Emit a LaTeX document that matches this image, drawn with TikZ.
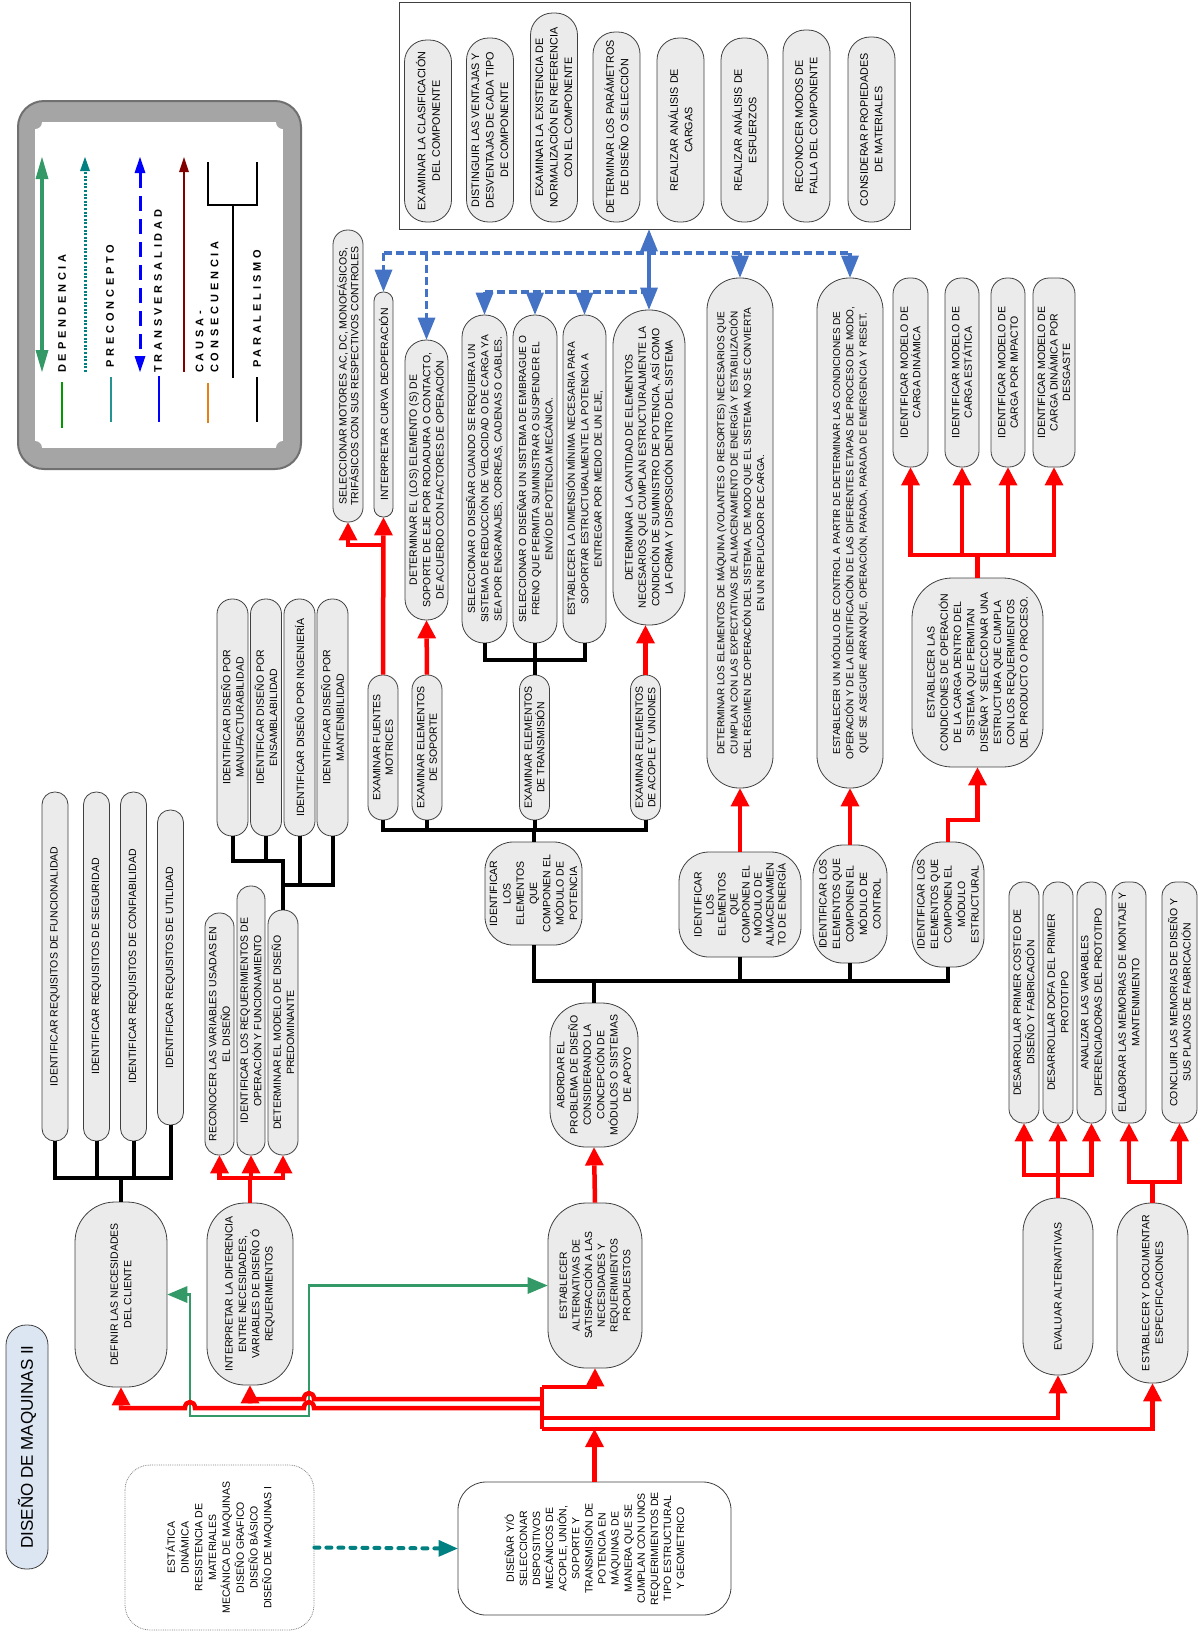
\documentclass[tikz,border=0pt]{standalone}
\usepackage{fontspec}
\setmainfont{Liberation Sans}
\newfontfamily\legfont[LetterSpace=35]{Liberation Sans}
\usetikzlibrary{arrows.meta}
\newcommand{\boxfs}[2]{\fontsize{#1}{#2}\selectfont}
\definecolor{boxgray}{RGB}{235,235,235}
\definecolor{boxline}{RGB}{64,64,64}
\definecolor{blueline}{RGB}{68,114,196}
\definecolor{depgreen}{RGB}{51,153,102}
\definecolor{preteal}{RGB}{0,128,128}
\definecolor{causered}{RGB}{128,0,0}
\definecolor{titleblue}{RGB}{220,230,242}
\definecolor{legdark}{RGB}{112,112,112}
\definecolor{legmid}{RGB}{165,165,165}
\tikzset{
  pill/.style={
    draw = boxline,
    fill = boxgray,
    line width = 0.8pt,
    rotate = 90,
    align = center,
    inner sep = 0pt,
    font = \boxfs{10.5}{13.3}
  },
  topbox/.style={
    pill,
    minimum height = 47pt,
    rounded corners = 22pt,
    font = \boxfs{10.8}{14.5}
  },
  blk/.style={
    line width = 4pt,
    color = black
  },
  rd/.style={
    line width = 4.5pt,
    color = red,
    -{Triangle[width=19pt,length=18pt,line width=0pt]}
  },
  bl/.style={
    line width = 3.5pt,
    color = blueline,
    dash pattern = on 8pt off 4pt
  },
  bla/.style={
    bl,
    -{Triangle[width=18pt,length=22pt,line width=0pt]}
  },
  grn/.style={
    line width = 2.2pt,
    color = depgreen,
    {Triangle[width=17pt,length=20pt,line width=0pt]}-{Triangle[width=17pt,length=20pt,line width=0pt]}
  },
  legtxt/.style={
    rotate = 90,
    anchor = west,
    inner sep = 0pt,
    align = left,
    font = \legfont\bfseries\boxfs{11}{15}
  }
}
\begin{document}
\begin{tikzpicture}[x=1pt,y=-1pt]
  \useasboundingbox (0,0) rectangle (1202,1634);
  \draw[line width=2pt, draw=legdark, fill=legmid, rounded corners=26pt] (18,101) rectangle (301,469);
  \fill[white] (35,122) rectangle (283,448);
  \foreach \cx/\cy in {35/122,283/122,35/448,283/448}
    \fill[legmid] (\cx,\cy) circle (7pt);
  \draw[line width=3.5pt, depgreen, {Triangle[width=13pt,length=22pt,line width=0pt]}-{Triangle[width=13pt,length=22pt,line width=0pt]}] (42,157) -- (42,372);
  \draw[line width=3pt, preteal, dash pattern=on 2pt off 1.6pt, -{Triangle[width=10pt,length=14pt,line width=0pt]}] (85,372) -- (85,157);
  \draw[line width=3pt, blue, dash pattern=on 15pt off 8pt, {Triangle[width=11pt,length=16pt,line width=0pt]}-{Triangle[width=11pt,length=16pt,line width=0pt]}] (140,157) -- (140,372);
  \draw[line width=2pt, causered, -{Triangle[width=10pt,length=15pt,line width=0pt]}] (184,372) -- (184,157);
  \draw[line width=1.5pt] (208,162) |- (257,205) -- (257,162);
  \draw[line width=1.5pt] (233,205) -- (233,378);
  \node[legtxt] (ldep) at (62,373) {DEPENDENCIA};
  \node[legtxt] (lpre) at (110,368) {PRECONCEPTO};
  \node[legtxt] (ltra) at (158,373) {TRANSVERSALIDAD};
  \node[legtxt] (lcau) at (207,373) {CAUSA-\\CONSECUENCIA};
  \node[legtxt] (lpar) at (257,368) {PARALELISMO};
  \draw[line width=1.5pt, green!60!black] (62,382) -- (62,428);
  \draw[line width=1.5pt, preteal!85] (111,377) -- (111,422);
  \draw[line width=1.5pt, blue] (159,376) -- (159,422);
  \draw[line width=1.5pt, orange!60!brown] (208,383) -- (208,423);
  \draw[line width=1.5pt] (257,377) -- (257,422);

  \node[draw=boxline, line width=0.8pt, minimum width=511pt, minimum height=227pt, inner sep=0pt] (topfr) at (654.5,115.5) {};
  \foreach \n/\x/\y/\lng/\txt in {
    1/428/131/182/{EXAMINAR LA CLASIFICACIÓN\\DEL COMPONENTE},
    2/490/130/184/{DISTINGUIR LAS VENTAJAS Y\\DESVENTAJAS DE CADA TIPO\\DE COMPONENTE},
    3/554/117.5/209/{EXAMINAR LA EXISTENCIA DE\\NORMALIZACIÓN EN REFERENCIA\\CON EL COMPONENTE},
    4/616.5/127/190/{DETERMINAR LOS PARÁMETROS\\DE DISEÑO O SELECCIÓN},
    5/680.5/130/184/{REALIZAR ANÁLISIS DE\\CARGAS},
    6/744.5/130/184/{REALIZAR ANÁLISIS DE\\ESFUERZOS},
    7/806.5/126/192/{RECONOCER MODOS DE\\FALLA DEL COMPONENTE},
    8/871.5/129.5/185/{CONSIDERAR PROPIEDADES\\DE MATERIALES}}{
    \node[topbox, minimum width=\lng pt] (t\n) at (\x,\y) {\txt};
  }

  \node[pill, font=\boxfs{10.5}{11.7}, minimum width=292pt, minimum height=30pt, rounded corners=14.5pt] (a1) at (348,376) {SELECCIONAR MOTORES AC, DC, MONOFÁSICOS,\\TRIFÁSICOS CON SUS RESPECTIVOS CONTROLES};
  \node[pill, minimum width=225pt, minimum height=19pt, rounded corners=9pt] (a2) at (383.5,404.5) {INTERPRETAR CURVA DEOPERACIÓN};
  \node[pill, minimum width=280pt, minimum height=43pt, rounded corners=21pt] (a3) at (426.5,480) {DETERMINAR EL (LOS)  ELEMENTO (S) DE\\SOPORTE DE EJE POR RODADURA O CONTACTO,\\DE ACUERDO CON FACTORES DE OPERACIÓN};
  \node[pill, font=\boxfs{10.2}{13.3}, minimum width=328pt, minimum height=45pt, rounded corners=22pt] (a4) at (484.5,479) {SELECCIONAR O DISEÑAR CUANDO SE REQUIERA UN\\SISTEMA DE REDUCCIÓN DE VELOCIDAD O DE CARGA YA\\SEA POR ENGRANAJES, CORREAS, CADENAS O CABLES.};
  \node[pill, font=\boxfs{10.2}{13.3}, minimum width=328pt, minimum height=44pt, rounded corners=21.5pt] (a5) at (535,479) {SELECCIONAR O DISEÑAR UN SISTEMA DE EMBRAGUE O\\FRENO QUE PERMITA SUMINISTRAR O SUSPENDER EL\\ENVÍO DE POTENCIA  MECÁNICA.};
  \node[pill, font=\boxfs{10.2}{13.3}, minimum width=328pt, minimum height=43pt, rounded corners=21pt] (a6) at (584.5,479) {ESTABLECER LA DIMENSIÓN MÍNIMA NECESARIA PARA\\SOPORTAR ESTRUCTURALMENTE LA  POTENCIA A\\ENTREGAR POR MEDIO DE UN EJE,};
  \node[pill, minimum width=315pt, minimum height=72pt, rounded corners=35pt] (a7) at (649,467.5) {DETERMINAR LA CANTIDAD DE ELEMENTOS\\NECESARIOS QUE CUMPLAN ESTRUCTURALMENTE LA\\CONDICIÓN DE SUMINISTRO DE POTENCIA, ASÍ COMO\\LA FORMA Y DISPOSICIÓN DENTRO DEL SISTEMA};

  \node[pill, font=\boxfs{10}{13.3}, minimum width=510pt, minimum height=66pt, rounded corners=32pt] (b1) at (740,533) {DETERMINAR LOS ELEMENTOS DE MÁQUINA (VOLANTES O RESORTES) NECESARIOS  QUE\\CUMPLAN CON LAS EXPECTATIVAS DE ALMACENAMIENTO DE ENERGÍA Y ESTABILIZACIÓN\\DEL RÉGIMEN DE OPERACIÓN DEL SISTEMA, DE MODO QUE EL SISTEMA  NO SE CONVIERTA\\EN UN REPLICADOR DE CARGA.};
  \node[pill, font=\boxfs{10}{13.3}, minimum width=510pt, minimum height=66pt, rounded corners=32pt] (b2) at (850,533) {ESTABLECER UN MÓDULO DE CONTROL A PARTIR  DE DETERMINAR LAS CONDICIONES DE\\OPERACIÓN Y  DE LA IDENTIFICACIÓN DE LAS DIFERENTES ETAPAS DE PROCESO DE MODO,\\QUE SE ASEGURE ARRANQUE, OPERACIÓN, PARADA, PARADA DE EMERGENCIA Y RESET.};

  \foreach \n/\x/\thk/\txt in {
    1/910.5/35/{IDENTIFICAR MODELO DE\\CARGA DINÁMICA},
    2/962/34/{IDENTIFICAR MODELO DE\\CARGA ESTÁTICA},
    3/1008/34/{IDENTIFICAR MODELO DE\\CARGA POR IMPACTO},
    4/1054/42/{IDENTIFICAR MODELO DE\\CARGA DINÁMICA POR\\DESGASTE}}{
    \node[pill, font=\boxfs{10.5}{12.5}, minimum width=189pt, minimum height=\thk pt, rounded corners=16pt] (c\n) at (\x,372.5) {\txt};
  }
  \node[pill, minimum width=189pt, minimum height=131pt, rounded corners=40pt] (c0) at (977.5,672.5) {ESTABLECER LAS\\CONDICIONES DE OPERACIÓN\\DE LA CARGA DENTRO DEL\\SISTEMA QUE PERMITAN\\DISEÑAR Y SELECCIONAR UNA\\ESTRUCTURA QUE CUMPLA\\CON LOS REQUERIMIENTOS\\DEL PRODUCTO O PROCESO.};

  \foreach \n/\x/\txt in {
    1/383/{EXAMINAR FUENTES\\MOTRICES},
    2/427/{EXAMINAR ELEMENTOS\\DE SOPORTE},
    3/534.5/{EXAMINAR ELEMENTOS\\DE TRANSMISIÓN},
    4/645.5/{EXAMINAR ELEMENTOS\\DE ACOPLE Y UNIONES}}{
    \node[pill, font=\boxfs{10.5}{12.5}, minimum width=145pt, minimum height=30pt, rounded corners=14.5pt] (d\n) at (\x,747.5) {\txt};
  }

  \node[pill, minimum width=103pt, minimum height=97pt, rounded corners=28pt] (e1) at (533.5,893.5) {IDENTIFICAR\\LOS\\ELEMENTOS\\QUE\\COMPONEN EL\\MÓDULO DE\\POTENCIA};
  \node[pill, font=\boxfs{10.5}{12}, minimum width=105pt, minimum height=122pt, rounded corners=30pt] (e2) at (740,904.5) {IDENTIFICAR\\LOS\\ELEMENTOS\\QUE\\COMPONEN EL\\MÓDULO DE\\ALMACENAMIEN\\TO DE ENERGÍA};
  \node[pill, font=\boxfs{10.5}{13.5}, minimum width=118pt, minimum height=74pt, rounded corners=30pt] (e3) at (850,904) {IDENTIFICAR LOS\\ELEMENTOS QUE\\COMPONEN EL\\MÓDULO DE\\CONTROL};
  \node[pill, font=\boxfs{10.5}{13.5}, minimum width=125pt, minimum height=72pt, rounded corners=30pt] (e4) at (948,904.5) {IDENTIFICAR LOS\\ELEMENTOS QUE\\COMPONEN EL\\MÓDULO\\ESTRUCTURAL};

  \foreach \n/\x/\txt in {
    1/232.5/{IDENTIFICAR DISEÑO POR\\MANUFACTURABILIDAD},
    2/266/{IDENTIFICAR DISEÑO POR\\ENSAMBLABILIDAD},
    3/299.5/{IDENTIFICAR DISEÑO POR INGENIERÍA},
    4/332.5/{IDENTIFICAR DISEÑO POR\\MANTENIBILIDAD}}{
    \node[pill, minimum width=237pt, minimum height=31pt, rounded corners=15pt] (f\n) at (\x,717.5) {\txt};
  }
  \node[pill, minimum width=242pt, minimum height=29pt, rounded corners=14pt] (g1) at (219.5,1034) {RECONOCER LAS VARIABLES USADAS EN\\EL DISEÑO};
  \node[pill, minimum width=269pt, minimum height=28pt, rounded corners=13.5pt] (g2) at (251,1020.5) {IDENTIFICAR LOS REQUERIMIENTOS DE\\OPERACIÓN Y FUNCIONAMIENTO};
  \node[pill, minimum width=245pt, minimum height=30pt, rounded corners=14.5pt] (g3) at (283,1032.5) {DETERMINAR EL MODELO DE DISEÑO\\PREDOMINANTE};

  \foreach \n/\x/\y/\lng/\txt in {
    1/55/966.5/349/{IDENTIFICAR REQUISITOS DE FUNCIONALIDAD},
    2/96.5/966.5/349/{IDENTIFICAR REQUISITOS DE SEGURIDAD},
    3/133.5/966.5/349/{IDENTIFICAR REQUISITOS DE CONFIABILIDAD},
    4/170.5/967.5/315/{IDENTIFICAR REQUISITOS DE UTILIDAD}}{
    \node[pill, minimum width=\lng pt, minimum height=26pt, rounded corners=12.5pt] (h\n) at (\x,\y) {\txt};
  }

  \foreach \n/\x/\thk/\txt in {
    1/1024/30/{DESARROLLAR PRIMER COSTEO DE\\DISEÑO Y FABRICACIÓN},
    2/1058/30/{DESARROLLAR DOFA DEL PRIMER\\PROTOTIPO},
    3/1091.5/29/{ANALIZAR LAS VARIABLES\\DIFERENCIADORAS DEL PROTOTIPO},
    4/1129/34/{ELABORAR LAS MEMORIAS DE MONTAJE Y\\MANTENIMIENTO},
    5/1179.5/35/{CONCLUIR LAS MEMORIAS DE DISEÑO Y\\SUS PLANOS DE FABRICACIÓN}}{
    \node[pill, minimum width=241pt, minimum height=\thk pt, rounded corners=14pt] (i\n) at (\x,1002.5) {\txt};
  }

  \node[pill, minimum width=185pt, minimum height=92pt, rounded corners=40pt] (defn) at (121,1294.5) {DEFINIR LAS NECESIDADES\\DEL CLIENTE};
  \node[pill, minimum width=182pt, minimum height=86pt, rounded corners=38pt] (interp) at (250,1294) {INTERPRETAR LA DIFERENCIA\\ENTRE NECESIDADES,\\VARIABLES DE DISEÑO Ó\\REQUERIMIENTOS};
  \node[pill, font=\boxfs{10.3}{12.7}, minimum width=165pt, minimum height=94pt, rounded corners=38pt] (estalt) at (595,1285.5) {ESTABLECER\\ALTERNATIVAS DE\\SATISFACCIÓN A LAS\\NECESIDADES  Y\\REQUERIMIENTOS\\PROPUESTOS};
  \node[pill, minimum width=144pt, minimum height=88pt, rounded corners=36pt] (abord) at (594,1075) {ABORDAR  EL\\PROBLEMA DE DISEÑO\\CONSIDERANDO LA\\CONCEPCIÓN DE\\MÓDULOS O SISTEMAS\\DE APOYO};
  \node[pill, minimum width=177pt, minimum height=70pt, rounded corners=34pt] (eval) at (1058,1286.5) {EVALUAR ALTERNATIVAS};
  \node[pill, minimum width=180pt, minimum height=71pt, rounded corners=34pt] (estdoc) at (1152.5,1293) {ESTABLECER Y DOCUMENTAR\\ESPECIFICACIONES};

  \node[pill, fill=white, font=\boxfs{10.5}{13.1}, minimum width=133pt, minimum height=273pt, rounded corners=28pt] (main) at (594.5,1548.5) {DISEÑAR Y/Ó\\SELECCIONAR\\DISPOSITIVOS\\MECÁNICOS DE\\ACOPLE, UNIÓN,\\SOPORTE Y\\TRANSMISIÓN DE\\POTENCIA EN\\MÁQUINAS DE\\MANERA QUE SE\\CUMPLAN CON UNOS\\REQUERIMIENTOS DE\\TIPO ESTRUCTURAL\\Y GEOMETRICO};
  \node[pill, draw=gray, densely dotted, fill=white, font=\boxfs{10.5}{13.8}, minimum width=165pt, minimum height=189pt, rounded corners=25pt] (prereq) at (219.5,1547.5) {ESTÁTICA\\DINÁMICA\\RESISTENCIA DE\\MATERIALES\\MECÁNICA DE MAQUINAS\\DISEÑO GRAFICO\\DISEÑO BÁSICO\\DISEÑO DE MAQUINAS I};
  \node[pill, fill=titleblue, font=\boxfs{17}{20}, minimum width=244pt, minimum height=42pt, rounded corners=20pt] (title) at (27,1447) {DISEÑO DE MAQUINAS II};

  \coordinate (bt) at (500,253);
  \coordinate (bs) at (500,292);
  \draw[bl] (a2.east |- bt) -- (b2.east |- bt);
  \draw[bl] (a4.east |- bs) -- (a7.east |- bs);
  \foreach \n in {a2,a3,b1,b2}
    \draw[bla] (\n.east |- bt) -- (\n.east);
  \foreach \n in {a4,a5,a6}
    \draw[bla] (\n.east |- bs) -- (\n.east);
  \draw[line width=3.5pt, blueline, {Triangle[width=18pt,length=22pt,line width=0pt]}-{Triangle[width=18pt,length=22pt,line width=0pt]}] (a7.east) -- (a7.east |- topfr.south);

  \coordinate (hj) at (121,1178);
  \draw[blk] (h1.west) |- (h4.west |- hj) -- (h4.west);
  \foreach \n in {h2,h3}
    \draw[blk] (\n.west) -- (\n.west |- hj);
  \draw[blk] (defn.east) -- (defn.east |- hj);
  \coordinate (fj) at (283,861);
  \coordinate (fk) at (283,885);
  \draw[blk] (f1.west) |- (fj) -- (g3.east);
  \draw[blk] (f2.west) -- (f2.west |- fj);
  \draw[blk] (f4.west) |- (fk);
  \draw[blk] (f3.west) -- (f3.west |- fk);
  \coordinate (dj) at (533,830);
  \draw[blk] (d1.west) |- (d4.west |- dj) -- (d4.west);
  \foreach \n in {d2,d3}
    \draw[blk] (\n.west) -- (\n.west |- dj);
  \draw[blk] (e1.east) -- (e1.east |- dj);
  \coordinate (aj) at (535,660);
  \draw[blk] (a4.west) |- (a6.west |- aj) -- (a6.west);
  \draw[blk] (a5.west) -- (a5.west |- aj);
  \draw[blk] (d3.east) -- (d3.east |- aj);
  \coordinate (ej) at (595,981);
  \draw[blk] (e1.west) |- (e4.west |- ej) -- (e4.west);
  \foreach \n in {e2,e3}
    \draw[blk] (\n.west) -- (\n.west |- ej);
  \draw[blk] (abord.east) -- (abord.east |- ej);

  \coordinate (r1) at (383,545);
  \draw[rd] (d1.east) -- (a2.west);
  \draw[rd] (r1) -| (a1.west);
  \draw[rd] (d2.east) -- (a3.west);
  \draw[rd] (d4.east) -- (d4.east |- a7.west);
  \draw[rd] (e2.east) -- (b1.west);
  \draw[rd] (e3.east) -- (b2.west);
  \coordinate (r2) at (948,820);
  \draw[rd] (e4.east) -- (r2) -| (c0.west);
  \coordinate (cj) at (977.5,555);
  \draw[rd] (c0.east) |- (c1.west |- cj) -- (c1.west);
  \draw[rd] (c0.east) |- (c4.west |- cj) -- (c4.west);
  \foreach \n in {c2,c3}
    \draw[rd] (\n.west |- cj) -- (\n.west);
  \coordinate (gj) at (250,1178);
  \draw[rd] (interp.east) |- (g1.west |- gj) -- (g1.west);
  \draw[rd] (interp.east) |- (g3.west |- gj) -- (g3.west);
  \draw[rd] (g2.west |- gj) -- (g2.west);
  \coordinate (ij) at (1058,1175);
  \draw[rd] (eval.east) |- (i1.west |- ij) -- (i1.west);
  \draw[rd] (eval.east) |- (i3.west |- ij) -- (i3.west);
  \draw[rd] (i2.west |- ij) -- (i2.west);
  \coordinate (kj) at (1152.5,1182);
  \draw[rd] (estdoc.east) |- (i4.west |- kj) -- (i4.west);
  \draw[rd] (estdoc.east) |- (i5.west |- kj) -- (i5.west);
  \draw[rd] (estalt.east) -- (abord.west);

  \draw[grn] (defn.south) -- (190,1294.5) -- (190,1416) -- (309,1416) |- (estalt.north);
  \draw[line width=4pt, preteal, line cap=round, dash pattern=on 5pt off 7pt, -{Triangle[width=17pt,length=19pt,line width=0pt]}] (prereq.south) -- (main.north);

  \coordinate (rtop) at (542,1387);
  \coordinate (rbot) at (542,1429);
  \draw[line width=4.5pt, red] (rtop) -- (rbot);
  \draw[rd] (main.east) -- (main.east |- rbot);
  \draw[rd] (rtop) -| (estalt.west);
  \draw[rd] (542,1399) -- (314,1399) .. controls (314,1391) and (304,1391) .. (304,1399) -| (interp.west);
  \draw[rd] (542,1408) -- (314,1408) .. controls (314,1400) and (304,1400) .. (304,1408) -- (195,1408) .. controls (195,1400) and (185,1400) .. (185,1408) -| (defn.west);
  \draw[rd] (542,1418) -| (eval.west);
  \draw[rd] (rbot) -| (estdoc.west);
\end{tikzpicture}
\end{document}
